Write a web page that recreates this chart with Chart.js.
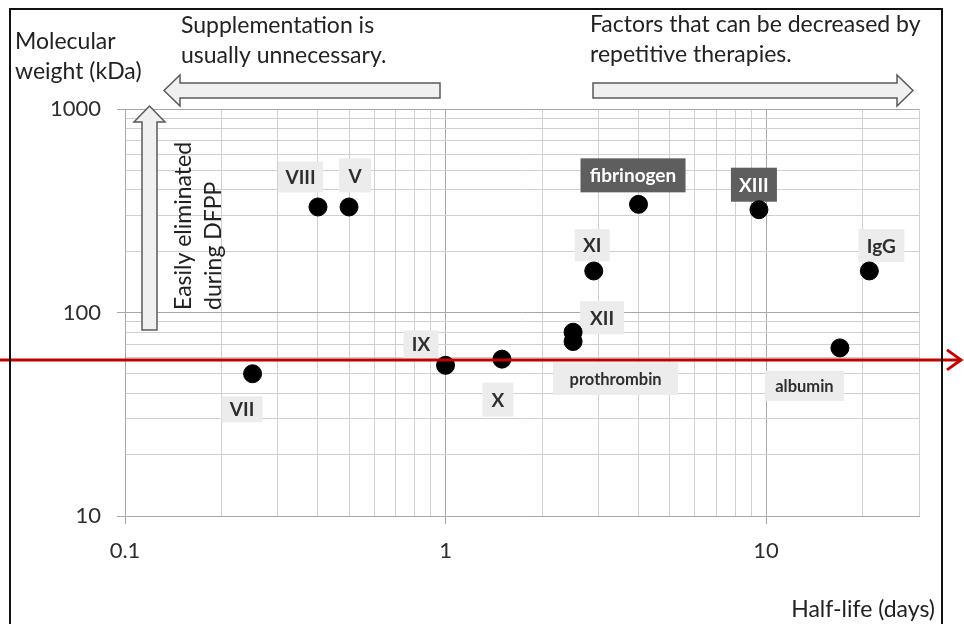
<!DOCTYPE html>
<html><head><meta charset="utf-8">
<script src="https://cdn.jsdelivr.net/npm/chart.js@4.4.1/dist/chart.umd.min.js"></script>
<style>html,body{margin:0;padding:0;background:#fff;}#wrap{width:964px;height:624px;}</style>
</head><body><div id="wrap"><canvas id="c" width="964" height="624"></canvas></div>
<script>
// ---- data ----
const factorNames = ['VII','VIII','V','IX','X','XII','prothrombin','XI','fibrinogen','XIII','IgG','albumin'];
const halfLifeDays = [0.25, 0.4, 0.5, 1, 1.5, 2.5, 2.5, 2.9, 4, 9.5, 21, 17];
const molecularWeightKDa = [50, 330, 330, 55, 59, 80, 72, 160, 340, 320, 160, 67];
const xTickValues = [0.1,0.2,0.3,0.4,0.5,0.6,0.7,0.8,0.9,1,2,3,4,5,6,7,8,9,10,20,30];
const yTickValues = [10,20,30,40,50,60,70,80,90,100,200,300,400,500,600,700,800,900,1000];
const xTickLabels = [0.1, 1, 10];
const yTickLabels = [10, 100, 1000];
const thresholdKDa = 58.5;

// ---- layout of label boxes (offset from point, box size) ----
const labelLayout = {
  'VII':[-10.5,35.5,41,26], 'VIII':[-17.5,-30,45,31], 'V':[6,-31.5,32,34], 'IX':[-24.5,-21,35,28],
  'X':[-4,40.5,31,34], 'XII':[29,-14.5,44,33], 'prothrombin':[42.5,37,125,33], 'XI':[-1.5,-26,35,32],
  'fibrinogen':[-5.5,-29,105,34], 'XIII':[-5,-25,46,34], 'IgG':[12,-25.5,46,33], 'albumin':[-35.5,38,79,30]
};
const darkLabels = ['fibrinogen','XIII'];
const smallBoldLabels = ['prothrombin','albumin'];
const FONT = 'Lato, "Open Sans", sans-serif';

function drawArrowH(ctx, tailX, tipX, yMid, shaftHalf, headHalf, headLen) {
  const dir = tipX > tailX ? 1 : -1;
  const baseX = tipX - dir*headLen;
  ctx.beginPath();
  ctx.moveTo(tailX, yMid - shaftHalf);
  ctx.lineTo(baseX, yMid - shaftHalf);
  ctx.lineTo(baseX, yMid - headHalf);
  ctx.lineTo(tipX, yMid);
  ctx.lineTo(baseX, yMid + headHalf);
  ctx.lineTo(baseX, yMid + shaftHalf);
  ctx.lineTo(tailX, yMid + shaftHalf);
  ctx.closePath();
  ctx.fillStyle = '#f0f0f0'; ctx.fill();
  ctx.strokeStyle = '#5a5a5a'; ctx.lineWidth = 1.5; ctx.stroke();
}
function drawArrowUp(ctx, xMid, tailY, tipY, shaftHalf, headHalf, headLen) {
  const baseY = tipY + headLen;
  ctx.beginPath();
  ctx.moveTo(xMid - shaftHalf, tailY);
  ctx.lineTo(xMid - shaftHalf, baseY);
  ctx.lineTo(xMid - headHalf, baseY);
  ctx.lineTo(xMid, tipY);
  ctx.lineTo(xMid + headHalf, baseY);
  ctx.lineTo(xMid + shaftHalf, baseY);
  ctx.lineTo(xMid + shaftHalf, tailY);
  ctx.closePath();
  ctx.fillStyle = '#f0f0f0'; ctx.fill();
  ctx.strokeStyle = '#5a5a5a'; ctx.lineWidth = 1.5; ctx.stroke();
}

const decor = {
  id: 'decor',
  beforeDatasetsDraw(chart) {
    const ctx = chart.ctx, xs = chart.scales.x, ys = chart.scales.y;
    ctx.save();
    factorNames.forEach((name, i) => {
      const px = xs.getPixelForValue(halfLifeDays[i]);
      const py = ys.getPixelForValue(molecularWeightKDa[i]);
      const [dx, dy, w, h] = labelLayout[name];
      const cx = px + dx, cy = py + dy;
      const dark = darkLabels.includes(name);
      ctx.fillStyle = dark ? '#5e5e5e' : '#ececec';
      ctx.fillRect(cx - w/2, cy - h/2, w, h);
      ctx.fillStyle = dark ? '#ffffff' : '#2e2e2e';
      ctx.textAlign = 'center'; ctx.textBaseline = 'middle';
      if (smallBoldLabels.includes(name)) ctx.font = 'bold 16.5px ' + FONT;
      else ctx.font = 'bold 19px ' + FONT;
      ctx.fillText(name, cx, cy + 1);
    });
    ctx.restore();
  },
  afterDraw(chart) {
    const ctx = chart.ctx, ys = chart.scales.y;
    ctx.save();
    // texts
    ctx.fillStyle = '#222';
    ctx.font = '23px ' + FONT;
    ctx.textAlign = 'left'; ctx.textBaseline = 'alphabetic';
    ctx.fillText('Molecular', 15, 49);
    ctx.fillText('weight (kDa)', 15, 79);
    ctx.fillText('Supplementation is', 181, 33);
    ctx.fillText('usually unnecessary.', 181, 63);
    ctx.fillText('Factors that can be decreased by', 590, 32);
    ctx.fillText('repetitive therapies.', 590, 62);
    ctx.textAlign = 'right';
    ctx.fillText('Half-life (days)', 935, 617);
    // arrows
    drawArrowH(ctx, 440, 164, 90.5, 7.5, 15.5, 16);
    drawArrowH(ctx, 593, 913, 90.5, 7.5, 15.5, 16);
    drawArrowUp(ctx, 149.5, 330, 106, 7.5, 15.5, 16);
    // rotated text
    ctx.save();
    ctx.rotate(-Math.PI/2);
    ctx.textAlign = 'left';
    ctx.fillStyle = '#222';
    ctx.font = '23px ' + FONT;
    ctx.fillText('Easily eliminated', -310, 191);
    ctx.fillText('during DFPP', -310, 221);
    ctx.restore();
    // red threshold line
    const ry = ys.getPixelForValue(thresholdKDa);
    ctx.strokeStyle = '#c00000'; ctx.lineWidth = 3;
    ctx.beginPath(); ctx.moveTo(0, ry); ctx.lineTo(961, ry); ctx.stroke();
    ctx.beginPath(); ctx.moveTo(947, ry - 10); ctx.lineTo(961, ry); ctx.lineTo(947, ry + 10); ctx.stroke();
    // frame
    ctx.strokeStyle = '#111'; ctx.lineWidth = 2;
    ctx.beginPath();
    ctx.moveTo(10, 630); ctx.lineTo(10, 9); ctx.lineTo(942, 9); ctx.lineTo(942, 630);
    ctx.stroke();
    ctx.restore();
  }
};

const bg = { id:'bg', beforeDraw(chart){ const c=chart.ctx; c.save(); c.fillStyle='#fff'; c.fillRect(0,0,chart.width,chart.height); c.restore(); } };

function gridColor(majors) {
  return (ctx) => (ctx.tick && majors.includes(ctx.tick.value)) ? '#a8a8a8' : '#d0d0d0';
}
function tickColor(majors) {
  return (ctx) => (ctx.tick && majors.includes(ctx.tick.value)) ? '#a8a8a8' : 'rgba(0,0,0,0)';
}

new Chart(document.getElementById('c'), {
  type: 'scatter',
  data: { datasets: [{
    data: halfLifeDays.map((d, i) => ({x: d, y: molecularWeightKDa[i]})),
    backgroundColor: '#000', borderColor: '#000', pointRadius: 9, pointHoverRadius: 9
  }]},
  options: {
    responsive: false, animation: false, devicePixelRatio: 1,
    layout: { padding: { left: 0, right: 45, top: 109, bottom: 0 } },
    plugins: { legend: { display: false }, tooltip: { enabled: false } },
    scales: {
      x: {
        type: 'logarithmic', min: 0.1, max: 30,
        afterBuildTicks: (s) => { s.ticks = xTickValues.map(v => ({ value: v })); },
        afterFit: (s) => { s.height = 108; },
        ticks: { autoSkip: false, maxRotation: 0, padding: 14, color: '#2e2e2e',
          font: { family: FONT, size: 22 },
          callback: (v) => xTickLabels.includes(v) ? String(v) : '' },
        grid: { color: gridColor(xTickLabels), tickColor: tickColor(xTickLabels), tickLength: 8, lineWidth: 1 },
        border: { color: '#a8a8a8' }
      },
      y: {
        type: 'logarithmic', min: 10, max: 1000,
        afterBuildTicks: (s) => { s.ticks = yTickValues.map(v => ({ value: v })); },
        afterFit: (s) => { s.width = 125; },
        ticks: { autoSkip: false, padding: 16, color: '#2e2e2e',
          font: { family: FONT, size: 22 },
          callback: (v) => yTickLabels.includes(v) ? String(v) : '' },
        grid: { color: gridColor(yTickLabels), tickColor: tickColor(yTickLabels), tickLength: 8, lineWidth: 1 },
        border: { color: '#a8a8a8' }
      }
    }
  },
  plugins: [bg, decor]
});
</script></body></html>
